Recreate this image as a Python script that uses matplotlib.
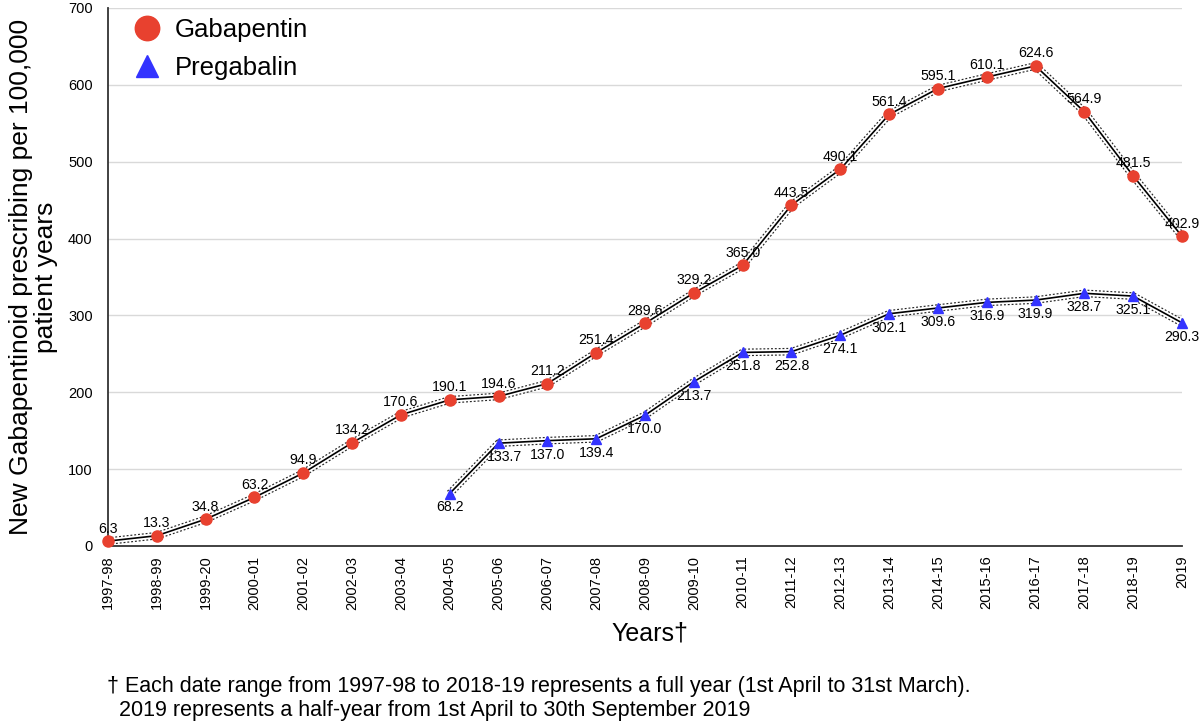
import matplotlib.pyplot as plt

years = ['1997-98', '1998-99', '1999-20', '2000-01', '2001-02', '2002-03', '2003-04',
         '2004-05', '2005-06', '2006-07', '2007-08', '2008-09', '2009-10', '2010-11',
         '2011-12', '2012-13', '2013-14', '2014-15', '2015-16', '2016-17', '2017-18',
         '2018-19', '2019']
gabapentin = [6.3, 13.3, 34.8, 63.2, 94.9, 134.2, 170.6, 190.1, 194.6, 211.2, 251.4,
              289.6, 329.2, 365.0, 443.5, 490.1, 561.4, 595.1, 610.1, 624.6, 564.9,
              481.5, 402.9]
pregabalin_years = years[7:]
pregabalin = [68.2, 133.7, 137.0, 139.4, 170.0, 213.7, 251.8, 252.8, 274.1, 302.1,
              309.6, 316.9, 319.9, 328.7, 325.1, 290.3]

plt.rcParams['font.family'] = ['Liberation Sans', 'DejaVu Sans']

fig = plt.figure(figsize=(12, 7.25), dpi=100)
ax = fig.add_axes([0.09, 0.247, 0.895, 0.742])

xg = list(range(len(years)))
xp = [years.index(y) for y in pregabalin_years]


def banded(x, y):
    # dotted outline, white inside, thin black centre line
    ax.plot(x, y, color='0.15', lw=5.5, dashes=(0.25, 0.25), solid_capstyle='butt',
            zorder=2, clip_on=False)
    ax.plot(x, y, color='white', lw=3.8, zorder=2.1, clip_on=False)
    ax.plot(x, y, color='black', lw=1.2, zorder=2.2, clip_on=False)


banded(xg, gabapentin)
banded(xp, pregabalin)
ax.plot(xg, gabapentin, 'o', color='#E8412F', ms=8, zorder=4, clip_on=False, label='Gabapentin')
ax.plot(xp, pregabalin, '^', color='#3333FF', ms=7, zorder=4, clip_on=False, label='Pregabalin')

for x, v in zip(xg, gabapentin):
    ax.annotate(f'{v:.1f}', (x, v), xytext=(0, 4), textcoords='offset points',
                ha='center', va='bottom', fontsize=10.2, zorder=5)
for x, v in zip(xp, pregabalin):
    dx = 4 if x == 8 else 0
    ax.annotate(f'{v:.1f}', (x, v), xytext=(dx, -5), textcoords='offset points',
                ha='center', va='top', fontsize=10.2, zorder=5)

ax.set_xlim(0, len(years) - 1)
ax.set_ylim(0, 700)
ax.set_yticks(range(0, 701, 100))
ax.set_xticks(xg)
ax.set_xticklabels(years, rotation=90, fontsize=10.5)
ax.tick_params(axis='y', labelsize=10.5, length=0, pad=11)
ax.tick_params(axis='x', length=0, pad=7)
ax.grid(axis='y', color='#d9d9d9', lw=1)
ax.set_axisbelow(True)
for s in ['top', 'right']:
    ax.spines[s].set_visible(False)
for s in ['left', 'bottom']:
    ax.spines[s].set_color('#333333')
    ax.spines[s].set_linewidth(1.3)

ax.set_ylabel('New Gabapentinoid prescribing per 100,000\npatient years', fontsize=19,
              linespacing=1.05)
ax.yaxis.set_label_coords(-0.047, 0.5)
ax.set_xlabel('Years\u2020', fontsize=18)
ax.xaxis.set_label_coords(0.505, -0.14)
ax.xaxis.label.set_va('top')

ax.legend(loc='upper left', bbox_to_anchor=(0.0, 1.025), frameon=False, fontsize=18.5,
          markerscale=2.2, handlelength=1.2, handletextpad=0.5, labelspacing=0.55)

fig.text(0.089, 1 - 692 / 725, '\u2020 Each date range from 1997-98 to 2018-19 represents a full year (1st April to 31st March).',
         fontsize=15.5, va='baseline')
fig.text(0.089, 1 - 716 / 725, '  2019 represents a half-year from 1st April to 30th September 2019',
         fontsize=15.5, va='baseline')

fig.savefig('out.png', dpi=100)
